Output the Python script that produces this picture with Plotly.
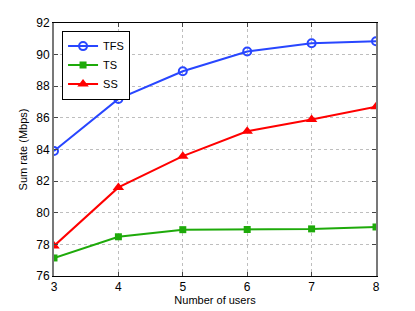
import plotly.graph_objects as go

users = [3, 4, 5, 6, 7, 8]
tfs = [83.9, 87.2, 88.95, 90.2, 90.72, 90.85]
ts = [77.14, 78.48, 78.93, 78.94, 78.98, 79.1]
ss = [77.9, 81.6, 83.58, 85.15, 85.9, 86.7]
y_ticks = [76, 78, 80, 82, 84, 86, 88, 90, 92]

fig = go.Figure()
fig.add_trace(go.Scatter(x=users, y=tfs, name="TFS", mode="lines+markers",
                         line=dict(color="rgb(40,70,255)", width=2),
                         marker=dict(symbol="circle-open", size=8, line=dict(width=2, color="rgb(40,70,255)"))))
fig.add_trace(go.Scatter(x=users, y=ts, name="TS", mode="lines+markers",
                         line=dict(color="rgb(30,170,10)", width=2),
                         marker=dict(symbol="square", size=7, color="rgb(30,170,10)")))
fig.add_trace(go.Scatter(x=users, y=ss, name="SS", mode="lines+markers",
                         line=dict(color="rgb(255,0,0)", width=2),
                         marker=dict(symbol="triangle-up", size=10, color="rgb(255,0,0)")))

axis_common = dict(showgrid=True, gridcolor="rgb(190,190,190)", griddash="dot", gridwidth=1,
                   showline=True, mirror="ticks", ticks="inside", ticklen=4,
                   zeroline=False, automargin=False, tickfont=dict(size=12, color="black"))
fig.update_xaxes(range=[3, 8], tickvals=users, linecolor="black", linewidth=1,
                 title=dict(text="Number of users", font=dict(size=11, color="black"), standoff=1),
                 **axis_common)
fig.update_yaxes(range=[76, 92], tickvals=y_ticks, linecolor="rgb(120,120,120)", linewidth=2,
                 title=dict(text="Sum rate (Mbps)", font=dict(size=11, color="black"), standoff=6),
                 **axis_common)

fig.update_layout(
    width=407, height=303,
    margin=dict(l=46, r=39, t=15, b=35),
    paper_bgcolor="white", plot_bgcolor="white",
    font=dict(family="Liberation Sans, Arial, sans-serif", color="black"),
    showlegend=True,
    legend=dict(x=0.025, y=0.97, xanchor="left", yanchor="top",
                bordercolor="black", borderwidth=1, bgcolor="white",
                font=dict(size=11), tracegroupgap=0, itemwidth=30),
)
fig.write_html("out.html")
